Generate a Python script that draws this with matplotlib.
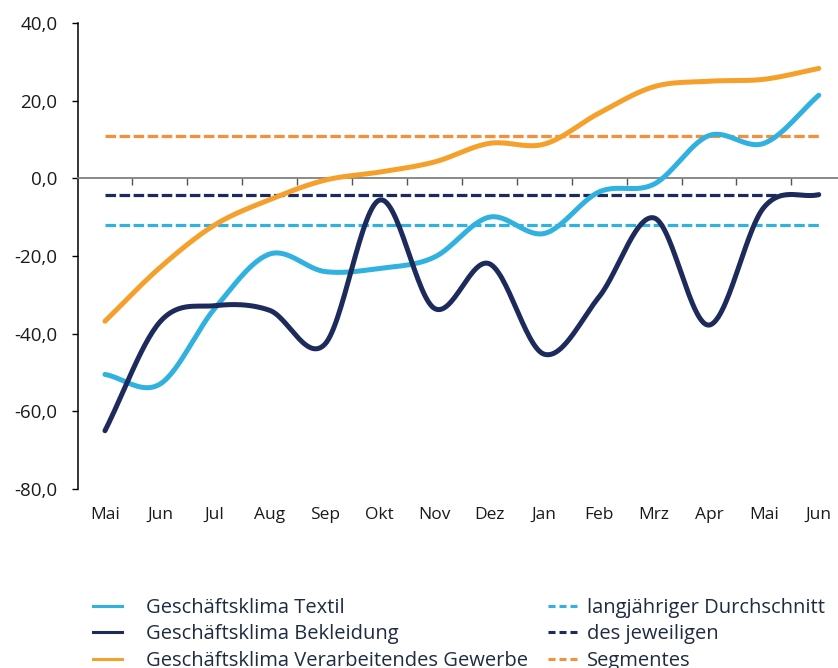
"""
Geschäftsklima: Textil, Bekleidung, Verarbeitendes Gewerbe (geglättete Linien)
"""
import matplotlib
matplotlib.use('Agg')
import matplotlib.pyplot as plt
from matplotlib.lines import Line2D
from matplotlib.ticker import FuncFormatter
import numpy as np

plt.rcParams['font.family'] = ['Open Sans', 'DejaVu Sans']

# ============================================================
# Daten
# ============================================================
months = ['Mai', 'Jun', 'Jul', 'Aug', 'Sep', 'Okt', 'Nov', 'Dez',
          'Jan', 'Feb', 'Mrz', 'Apr', 'Mai', 'Jun']

textil =     [-50.5, -53.0, -33.5, -19.5, -24.0, -23.2, -20.3, -10.0,
              -14.2, -3.5, -1.5, 11.0, 9.0, 21.4]
bekleidung = [-65.0, -37.0, -32.8, -34.0, -42.8, -5.6, -33.5, -22.0,
              -45.3, -30.5, -10.2, -37.8, -7.5, -4.2]
gewerbe =    [-36.8, -23.0, -12.0, -5.5, -0.5, 1.6, 4.2, 9.0,
              8.8, 16.8, 23.6, 25.0, 25.5, 28.3]

avg_textil = -11.9
avg_bekleidung = -4.2
avg_gewerbe = 11.0

c_textil = '#30B1E0'
c_bekl = '#1D2A5C'
c_gew = '#F6A02C'
c_gew_avg = '#F68E3A'


def smooth(y, n=30):
    # Catmull-Rom Spline (wie "geglättete Linie" in Excel)
    y = np.asarray(y, dtype=float)
    p = np.concatenate([[2 * y[0] - y[1]], y, [2 * y[-1] - y[-2]]])
    xs, ys = [], []
    for i in range(len(y) - 1):
        p0, p1, p2, p3 = p[i], p[i + 1], p[i + 2], p[i + 3]
        t = np.linspace(0, 1, n, endpoint=False)
        seg = 0.5 * (2 * p1 + (-p0 + p2) * t + (2 * p0 - 5 * p1 + 4 * p2 - p3) * t ** 2
                     + (-p0 + 3 * p1 - 3 * p2 + p3) * t ** 3)
        xs.append(i + t)
        ys.append(seg)
    xs.append([len(y) - 1])
    ys.append([y[-1]])
    return np.concatenate(xs), np.concatenate(ys)


fig = plt.figure(figsize=(8.38, 6.68), dpi=100)
ax = fig.add_axes([0.0925, 0.268, 0.9075, 0.6976])

x = np.arange(len(months))

# Durchschnittslinien
dash = (3.3, 1.1)
ax.plot([0, len(months) - 1], [avg_gewerbe] * 2, color=c_gew_avg, lw=2.3, dashes=dash, zorder=2)
ax.plot([0, len(months) - 1], [avg_bekleidung] * 2, color=c_bekl, lw=2.3, dashes=dash, zorder=2)
ax.plot([0, len(months) - 1], [avg_textil] * 2, color=c_textil, lw=2.3, dashes=dash, zorder=2)

# Geglättete Linien
for data, col in [(gewerbe, c_gew), (textil, c_textil), (bekleidung, c_bekl)]:
    sx, sy = smooth(data)
    ax.plot(sx, sy, color=col, lw=3.6, solid_capstyle='round', zorder=3)

ax.set_xlim(-0.5, 13.35)
ax.set_ylim(-80, 40)

# Y-Achse
ax.set_yticks(np.arange(-80, 41, 20))
ax.yaxis.set_major_formatter(FuncFormatter(lambda v, p: f'{v:.1f}'.replace('.', ',')))
ax.tick_params(axis='y', length=4.5, width=1, pad=10, labelsize=13.5, colors='black', labelcolor='#1a1a1a')
ax.spines['left'].set_linewidth(1.1)

# X-Achse bei 0, Ticks zwischen den Kategorien
ax.spines['bottom'].set_position(('data', 0))
ax.spines['bottom'].set_color('#808080')
ax.spines['bottom'].set_linewidth(1.3)
ax.spines['top'].set_visible(False)
ax.spines['right'].set_visible(False)
ax.set_xticks(np.arange(0.5, 13, 1))
ax.set_xticklabels([])
ax.tick_params(axis='x', direction='out', length=5, width=1, colors='#555555')

# Kategorien unten
sec = ax.secondary_xaxis('bottom')
sec.set_xticks(x)
sec.set_xticklabels(months)
sec.spines['bottom'].set_visible(False)
sec.tick_params(length=0, pad=13, labelsize=12.5, labelcolor='#1a1a1a')

# Legende (zwei Spalten)
txt_col = '#1E2B40'
h1 = [Line2D([], [], color=c_textil, lw=2.2),
      Line2D([], [], color=c_bekl, lw=2.2),
      Line2D([], [], color=c_gew, lw=2.2)]
l1 = ['Geschäftsklima Textil', 'Geschäftsklima Bekleidung', 'Geschäftsklima Verarbeitendes Gewerbe']
h2 = [Line2D([], [], color=c_textil, lw=2.2, dashes=(2.3, 1.3)),
      Line2D([], [], color=c_bekl, lw=2.2, dashes=(2.3, 1.3)),
      Line2D([], [], color=c_gew_avg, lw=2.2, dashes=(2.3, 1.3))]
l2 = ['langjähriger Durchschnitt', 'des jeweiligen', 'Segmentes']

leg_kw = dict(loc='upper left', frameon=False, fontsize=14.5, handlelength=1.45,
              labelspacing=0.32, borderaxespad=0, borderpad=0, labelcolor=txt_col)
leg1 = fig.legend(h1, l1, bbox_to_anchor=(0.111, 0.105), handletextpad=1.2, **leg_kw)
leg2 = fig.legend(h2, l2, bbox_to_anchor=(0.654, 0.105), handletextpad=0.5, **leg_kw)

fig.savefig('out.png', dpi=100)
plt.close()
print("Saved: out.png")
